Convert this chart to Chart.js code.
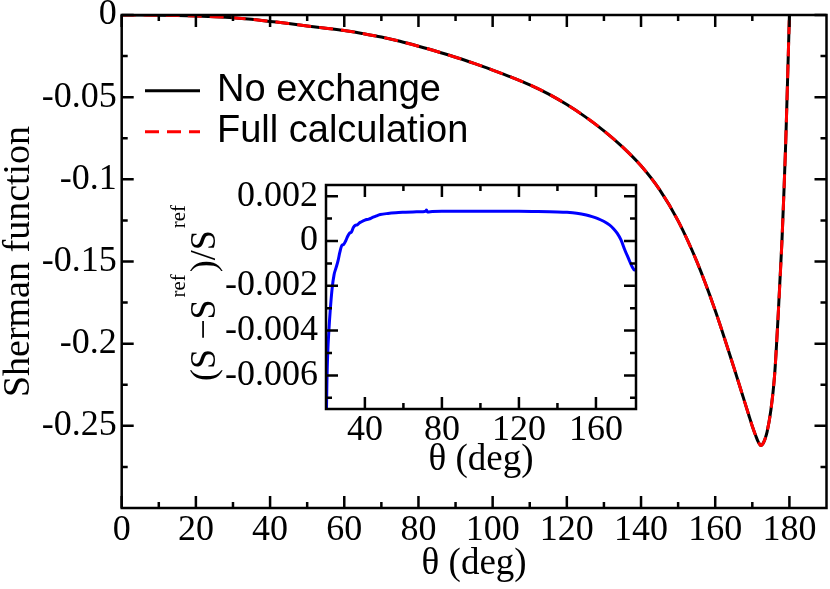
<!DOCTYPE html>
<html><head><meta charset="utf-8">
<script src="https://cdn.jsdelivr.net/npm/chart.js@4.4.1/dist/chart.umd.min.js"></script>
<style>
html,body{margin:0;padding:0;background:#fff;}
#wrap{position:relative;width:830px;height:589px;background:#fff;}
#main{position:absolute;left:0;top:0;}
#inset{position:absolute;left:150px;top:170px;}
</style></head><body>
<div id="wrap"><canvas id="main" width="830" height="589"></canvas><canvas id="inset" width="500" height="320"></canvas></div>
<script>
// ---------- data ----------
const thetaMain = [0,5,10,15,20,25,30,35,40,45,50,55,60,65,70,75,80,85,90,95,100,105,110,115,120,125,130,135,140,145,150,155,160,165,168,169,170,171,171.5,172,172.3,172.6,173,173.5,174,175,176,177,178,178.5,179,179.5,180];
const shermanNoExchange = [0,-0.00002,-0.0001,-0.0003,-0.0006,-0.001,-0.0016,-0.0026,-0.0039,-0.0052,-0.0067,-0.008,-0.0094,-0.0113,-0.0134,-0.016,-0.019,-0.0222,-0.0257,-0.0294,-0.0335,-0.0378,-0.0425,-0.048,-0.0545,-0.062,-0.0705,-0.0803,-0.0918,-0.1063,-0.1253,-0.1498,-0.1798,-0.2143,-0.2359,-0.2431,-0.2502,-0.2565,-0.2593,-0.2613,-0.262,-0.2617,-0.2603,-0.2575,-0.2535,-0.2405,-0.2195,-0.1815,-0.137,-0.109,-0.078,-0.04,0];
const shermanFull = [0,-0.00002,-0.0001,-0.0003,-0.0006,-0.001,-0.0016,-0.0026,-0.0039,-0.0052,-0.0067,-0.008,-0.0094,-0.0113,-0.0134,-0.016,-0.019,-0.0222,-0.0257,-0.0294,-0.0335,-0.0378,-0.0425,-0.048,-0.0545,-0.062,-0.0705,-0.0803,-0.0918,-0.1063,-0.1253,-0.1498,-0.1798,-0.2143,-0.2359,-0.2431,-0.2502,-0.2565,-0.2593,-0.2613,-0.262,-0.2617,-0.2603,-0.2575,-0.2535,-0.2405,-0.2195,-0.1815,-0.137,-0.109,-0.078,-0.04,0];
const seriesLabels = ['No exchange','Full calculation'];

const thetaInset = [20,20.3,20.7,21.3,22,23,24,25,26,27,28,29,30,31,32,33,34,35,36,37,38,40,42,44,46,48,52,56,60,65,70,71.5,72,72.5,75,80,90,100,110,120,130,140,145,150,155,158,161,164,167,169,171,173,175,177,178.5,179.5,180,180.5];
const relDiff = [-0.0078,-0.0062,-0.005,-0.004,-0.0031,-0.0021,-0.0015,-0.0012,-0.0009,-0.0005,-0.0002,-0.00015,0,0.0002,0.00035,0.0004,0.0006,0.0007,0.00072,0.0008,0.00085,0.00093,0.00098,0.00105,0.00112,0.00118,0.00123,0.00126,0.00128,0.0013,0.00131,0.00133,0.00138,0.0013,0.00132,0.00133,0.00133,0.00133,0.00133,0.00133,0.00132,0.0013,0.00128,0.00124,0.00116,0.00109,0.001,0.00088,0.00072,0.00056,0.00035,0.00005,-0.0004,-0.0008,-0.0011,-0.00125,-0.0013,-0.00128];

const mainXTicks = [0,20,40,60,80,100,120,140,160,180];
const mainXMinor = [10,30,50,70,90,110,130,150,170];
const mainYTicks = [0,-0.05,-0.1,-0.15,-0.2,-0.25];
const mainYMinor = [-0.025,-0.075,-0.125,-0.175,-0.225,-0.275];
const insetXTicks = [40,80,120,160];
const insetXMinor = [60,100,140];
const insetYTicks = [0.002,0,-0.002,-0.004,-0.006];
const insetYMinor = [0.001,-0.001,-0.003,-0.005,-0.007];

// ---------- helpers ----------
const SERIF = "'Liberation Serif','Times New Roman',serif";
const SANS = "'Liberation Sans',Arial,sans-serif";
Chart.defaults.font.family = SERIF;
Chart.defaults.color = '#000';

function setTicks(arr){ return function(scale){ scale.ticks = arr.map(v => ({value:v})); }; }
function fixSize(prop, val){
  return function(s){
    s[prop] = val;
    s.paddingTop = 0; s.paddingBottom = 0; s.paddingLeft = 0; s.paddingRight = 0;
  };
}

function frameTicks(xMaj, xMin, yMaj, yMin, majLen, minLen){
  return {
    id:'frameTicks',
    afterDraw(chart){
      const ctx = chart.ctx, a = chart.chartArea, x = chart.scales.x, y = chart.scales.y;
      ctx.save();
      ctx.strokeStyle = '#000';
      ctx.lineWidth = 2.5;
      ctx.beginPath();
      const vx = (v, len) => { const p = x.getPixelForValue(v); ctx.moveTo(p, a.bottom); ctx.lineTo(p, a.bottom - len); ctx.moveTo(p, a.top); ctx.lineTo(p, a.top + len); };
      const vy = (v, len) => { const p = y.getPixelForValue(v); ctx.moveTo(a.left, p); ctx.lineTo(a.left + len, p); ctx.moveTo(a.right, p); ctx.lineTo(a.right - len, p); };
      xMaj.forEach(v => vx(v, majLen)); xMin.forEach(v => vx(v, minLen));
      yMaj.forEach(v => vy(v, majLen)); yMin.forEach(v => vy(v, minLen));
      ctx.stroke();
      ctx.strokeRect(a.left, a.top, a.right - a.left, a.bottom - a.top);
      ctx.restore();
    }
  };
}

const legendPlugin = {
  id:'customLegend',
  afterDraw(chart){
    const ctx = chart.ctx;
    ctx.save();
    ctx.font = "38px " + SANS;
    ctx.fillStyle = '#000';
    ctx.textBaseline = 'alphabetic';
    const rows = [{ly:90.7, ty:101},{ly:131.7, ty:142}];
    chart.data.datasets.forEach((ds, i) => {
      const r = rows[i];
      ctx.beginPath();
      ctx.strokeStyle = ds.borderColor;
      ctx.lineWidth = 3;
      ctx.setLineDash(ds.borderDash || []);
      ctx.moveTo(145, r.ly); ctx.lineTo(200, r.ly);
      ctx.stroke();
      ctx.setLineDash([]);
      ctx.fillText(ds.label, 217, r.ty);
    });
    ctx.restore();
  }
};

const insetTitlePlugin = {
  id:'insetTitle',
  afterDraw(chart){
    const ctx = chart.ctx, a = chart.chartArea;
    const big = "36px " + SERIF, small = "21px " + SERIF;
    const segs = [
      {t:'(S', f:big, dy:0},
      {t:'\u2009\u2212S', f:big, dy:0},
      {t:'ref', f:small, dy:-30},
      {t:')/S', f:big, dy:0},
      {t:'ref', f:small, dy:-30}
    ];
    ctx.save();
    ctx.fillStyle = '#000';
    let total = 0;
    segs.forEach(s => { ctx.font = s.f; s.w = ctx.measureText(s.t).width + 2; total += s.w; });
    const cx = a.left - 111, cy = (a.top + a.bottom) / 2 - 5;
    ctx.translate(cx, cy);
    ctx.rotate(-Math.PI / 2);
    ctx.textBaseline = 'alphabetic';
    let pos = -total / 2;
    segs.forEach(s => { ctx.font = s.f; ctx.fillText(s.t, pos, s.dy); pos += s.w; });
    ctx.restore();
  }
};

function fmtMain(v){ return Math.abs(v) < 1e-9 ? '0' : String(Number(v.toFixed(3))); }
function fmtInset(v){ return Math.abs(v) < 1e-9 ? '0' : v.toFixed(3); }

// ---------- main chart ----------
new Chart(document.getElementById('main'), {
  type:'line',
  data:{
    datasets:[
      {label:seriesLabels[0], data:thetaMain.map((t,i)=>({x:t,y:shermanNoExchange[i]})), borderColor:'#000000', borderWidth:3, pointRadius:0, cubicInterpolationMode:'monotone', fill:false, order:2},
      {label:seriesLabels[1], data:thetaMain.map((t,i)=>({x:t,y:shermanFull[i]})), borderColor:'#ff0000', borderWidth:3, borderDash:[14,8], pointRadius:0, cubicInterpolationMode:'monotone', fill:false, order:1}
    ]
  },
  options:{
    responsive:false, animation:false, devicePixelRatio:1,
    layout:{padding:{left:0, top:15, right:3.5, bottom:0}},
    plugins:{legend:{display:false}, tooltip:{enabled:false}},
    scales:{
      x:{type:'linear', min:0, max:190,
         afterBuildTicks:setTicks(mainXTicks),
         afterFit:fixSize('height', 81),
         grid:{display:false, drawTicks:false}, border:{display:false},
         ticks:{font:{size:36, family:SERIF}, color:'#000', padding:1, maxRotation:0, autoSkip:false},
         title:{display:true, text:'\u03B8 (deg)', font:{size:37, family:SERIF, lineHeight:1}, color:'#000', padding:{top:0,bottom:6}}
      },
      y:{type:'linear', min:-0.3, max:0,
         afterBuildTicks:setTicks(mainYTicks),
         afterFit:fixSize('width', 121.7),
         grid:{display:false, drawTicks:false}, border:{display:false},
         ticks:{font:{size:36, family:SERIF}, color:'#000', padding:5, autoSkip:false, callback:fmtMain},
         title:{display:true, text:'Sherman function', font:{size:38, family:SERIF, lineHeight:1}, color:'#000', padding:0}
      }
    }
  },
  plugins:[frameTicks(mainXTicks, mainXMinor, mainYTicks, mainYMinor, 12, 6), legendPlugin]
});

// ---------- inset chart ----------
new Chart(document.getElementById('inset'), {
  type:'line',
  data:{
    datasets:[
      {label:'(S - Sref)/Sref', data:thetaInset.map((t,i)=>({x:t,y:relDiff[i]})), borderColor:'#0000ff', borderWidth:3, pointRadius:0, cubicInterpolationMode:'monotone', fill:false}
    ]
  },
  options:{
    responsive:false, animation:false, devicePixelRatio:1,
    layout:{padding:{left:0, top:15, right:14, bottom:0}},
    plugins:{legend:{display:false}, tooltip:{enabled:false}},
    scales:{
      x:{type:'linear', min:19.8, max:180.8,
         afterBuildTicks:setTicks(insetXTicks),
         afterFit:fixSize('height', 81),
         grid:{display:false, drawTicks:false}, border:{display:false},
         ticks:{font:{size:36, family:SERIF}, color:'#000', padding:0, maxRotation:0, autoSkip:false},
         title:{display:true, text:'\u03B8 (deg)', font:{size:37, family:SERIF, lineHeight:1}, color:'#000', padding:{top:0,bottom:11}}
      },
      y:{type:'linear', min:-0.0075, max:0.0025,
         afterBuildTicks:setTicks(insetYTicks),
         afterFit:fixSize('width', 176),
         grid:{display:false, drawTicks:false}, border:{display:false},
         ticks:{font:{size:36, family:SERIF}, color:'#000', padding:8, autoSkip:false, callback:fmtInset},
         title:{display:false}
      }
    }
  },
  plugins:[frameTicks(insetXTicks, insetXMinor, insetYTicks, insetYMinor, 12, 6), insetTitlePlugin]
});
</script>
</body></html>
